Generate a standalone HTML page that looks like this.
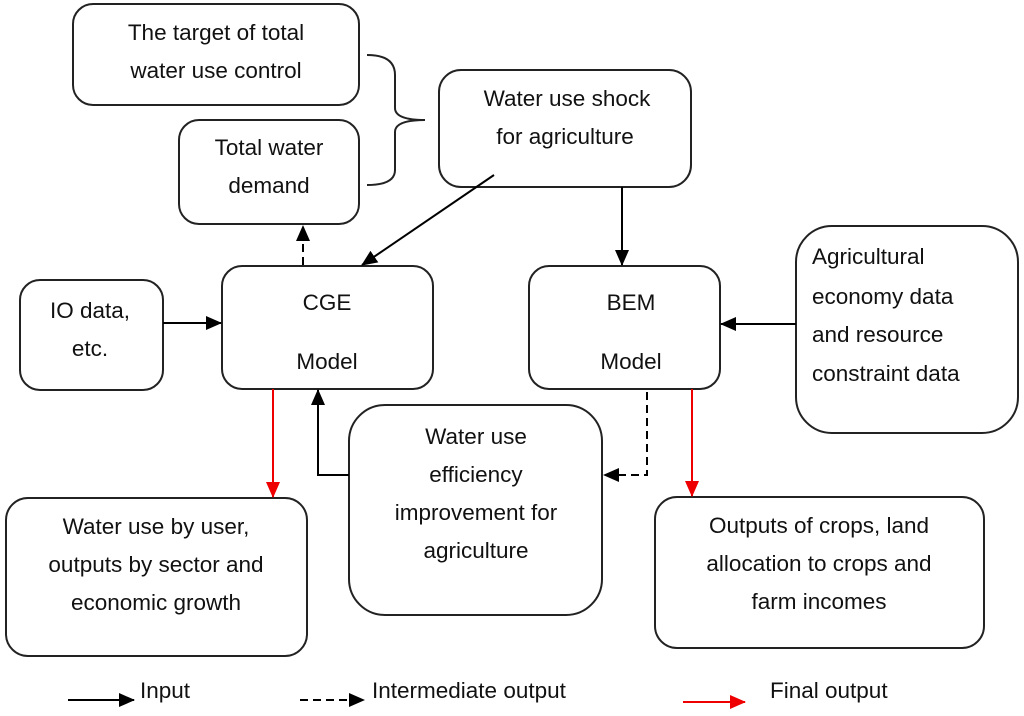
<!DOCTYPE html>
<html><head><meta charset="utf-8"><style>body{margin:0;background:#fff}svg{display:block}text{font-family:"Liberation Sans",sans-serif;font-size:22.5px;fill:#111;text-anchor:middle}</style></head><body>
<svg width="1024" height="716" viewBox="0 0 1024 716">
<defs>
<marker id="a" markerWidth="16" markerHeight="14" refX="15" refY="7" orient="auto" markerUnits="userSpaceOnUse"><path d="M0,0 L16,7 L0,14z" fill="#000"/></marker>
<marker id="r" markerWidth="16" markerHeight="14" refX="15" refY="7" orient="auto" markerUnits="userSpaceOnUse"><path d="M0,0 L16,7 L0,14z" fill="#e00"/></marker>
</defs>
<g fill="none" stroke="#222" stroke-width="2">
<rect x="73" y="4" width="286" height="101" rx="20"/>
<rect x="179" y="120" width="180" height="104" rx="20"/>
<rect x="439" y="70" width="252" height="117" rx="22"/>
<rect x="20" y="280" width="143" height="110" rx="20"/>
<rect x="222" y="266" width="211" height="123" rx="20"/>
<rect x="529" y="266" width="191" height="123" rx="20"/>
<rect x="796" y="226" width="222" height="207" rx="36"/>
<rect x="349" y="405" width="253" height="210" rx="36"/>
<rect x="6" y="498" width="301" height="158" rx="22"/>
<rect x="655" y="497" width="329" height="151" rx="22"/>
<path d="M367,55 Q395,55 395,75 L395,108 Q395,120 425,120 Q395,120 395,132 L395,170 Q395,185 367,185"/>
</g>
<g stroke="#000" stroke-width="2" fill="none">
<line x1="494" y1="175" x2="362" y2="265" marker-end="url(#a)"/>
<line x1="622" y1="187" x2="622" y2="265" marker-end="url(#a)"/>
<line x1="303" y1="265" x2="303" y2="226" stroke-dasharray="8,5" marker-end="url(#a)"/>
<line x1="163" y1="323" x2="221" y2="323" marker-end="url(#a)"/>
<line x1="796" y1="324" x2="721" y2="324" marker-end="url(#a)"/>
<path d="M349,475 L318,475 L318,390" marker-end="url(#a)"/>
<path d="M647,392 L647,475 L604,475" stroke-dasharray="8,5" marker-end="url(#a)"/>
<line x1="68" y1="700" x2="134" y2="700" marker-end="url(#a)"/>
<line x1="300" y1="700" x2="364" y2="700" stroke-dasharray="8,5" marker-end="url(#a)"/>
</g>
<g stroke="#e00" stroke-width="2">
<line x1="273" y1="389" x2="273" y2="497" marker-end="url(#r)"/>
<line x1="692" y1="389" x2="692" y2="496" marker-end="url(#r)"/>
<line x1="683" y1="702" x2="745" y2="702" marker-end="url(#r)"/>
</g>
<text x="216" y="40">The target of total</text>
<text x="216" y="78">water use control</text>
<text x="269" y="155">Total water</text>
<text x="269" y="193">demand</text>
<text x="567" y="106">Water use shock</text>
<text x="565" y="144">for agriculture</text>
<text x="90" y="318">IO data,</text>
<text x="90" y="356">etc.</text>
<text x="327" y="310">CGE</text>
<text x="327" y="369">Model</text>
<text x="631" y="310">BEM</text>
<text x="631" y="369">Model</text>
<text x="812" y="264" style="text-anchor:start">Agricultural</text>
<text x="812" y="304" style="text-anchor:start">economy data</text>
<text x="812" y="342" style="text-anchor:start">and resource</text>
<text x="812" y="381" style="text-anchor:start">constraint data</text>
<text x="476" y="444">Water use</text>
<text x="476" y="482">efficiency</text>
<text x="476" y="520">improvement for</text>
<text x="476" y="558">agriculture</text>
<text x="156" y="534">Water use by user,</text>
<text x="156" y="572">outputs by sector and</text>
<text x="156" y="610">economic growth</text>
<text x="819" y="533">Outputs of crops, land</text>
<text x="819" y="571">allocation to crops and</text>
<text x="819" y="609">farm incomes</text>
<text x="140" y="698" style="text-anchor:start">Input</text>
<text x="372" y="698" style="text-anchor:start">Intermediate output</text>
<text x="770" y="698" style="text-anchor:start">Final output</text>
</svg>
</body></html>
